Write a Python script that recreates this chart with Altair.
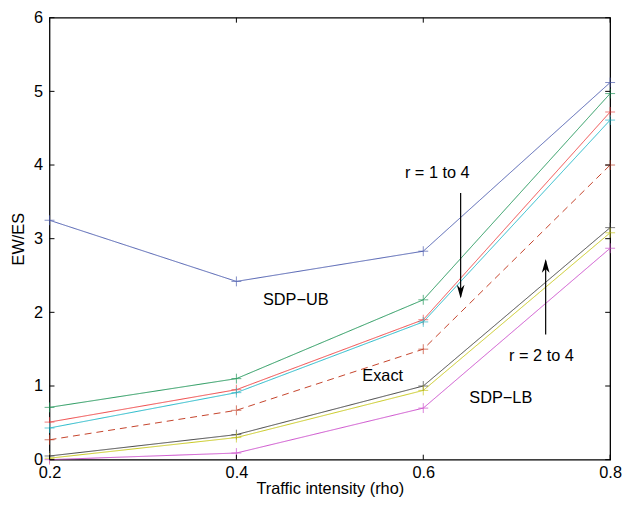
import altair as alt
import pandas as pd

rho = [0.2, 0.4, 0.6, 0.8]
sdp_ub_1 = [3.25, 2.42, 2.83, 5.12]
sdp_ub_2 = [0.71, 1.10, 2.17, 4.97]
sdp_ub_3 = [0.51, 0.95, 1.90, 4.72]
sdp_ub_4 = [0.43, 0.91, 1.87, 4.61]
exact = [0.27, 0.67, 1.50, 4.00]
sdp_lb_2 = [0.05, 0.34, 1.00, 3.15]
sdp_lb_3 = [0.02, 0.30, 0.94, 3.08]
sdp_lb_4 = [0.00, 0.09, 0.70, 2.87]

series_names = ["UB r=1", "UB r=2", "UB r=3", "UB r=4", "Exact", "LB r=2", "LB r=3", "LB r=4"]
series_vals = [sdp_ub_1, sdp_ub_2, sdp_ub_3, sdp_ub_4, exact, sdp_lb_2, sdp_lb_3, sdp_lb_4]
series_colors = ["#4f5fb0", "#22975a", "#ee4646", "#22b8c8", "#c4432b", "#444444", "#c8c81e", "#cc50cc"]
series_dash = ["solid", "solid", "solid", "solid", "dash", "solid", "solid", "solid"]

x_ticks = [0.2, 0.4, 0.6, 0.8]
y_ticks = [0, 1, 2, 3, 4, 5, 6]

# annotations (data coordinates)
ann_text = ["r = 1 to 4", "SDP\u2212UB", "Exact", "SDP\u2212LB", "r = 2 to 4"]
ann_x = [0.615, 0.4635, 0.5566, 0.683, 0.7265]
ann_y = [3.89, 2.17, 1.13, 0.83, 1.41]

arrow_x = [0.640, 0.731]
arrow_from = [3.62, 1.70]
arrow_to = [2.21, 2.70]
arrow_dir = ["down", "up"]

W, H = 567, 447
FONT = "Liberation Sans"
FS = 16.5

rows = []
for name, vals, dash in zip(series_names, series_vals, series_dash):
    for xv, yv in zip(rho, vals):
        rows.append({"rho": xv, "val": yv, "series": name, "dash": dash})
df = pd.DataFrame(rows)

xs = alt.Scale(domain=[0.2, 0.8], nice=False, zero=False)
ys = alt.Scale(domain=[0, 6], nice=False, zero=False)

color = alt.Color("series:N", scale=alt.Scale(domain=series_names, range=series_colors), legend=None)

base = alt.Chart(df)
lines = base.mark_line(strokeWidth=1, clip=True).encode(
    x=alt.X("rho:Q", scale=xs,
            axis=alt.Axis(values=x_ticks, format=".1f", ticks=False, domain=False, grid=False,
                          labelFlush=False,
                          labelFont=FONT, labelFontSize=FS, labelColor="black", labelPadding=5,
                          title="Traffic intensity (rho)", titleFont=FONT, titleFontSize=FS,
                          titleFontWeight="normal", titleColor="black", titlePadding=0)),
    y=alt.Y("val:Q", scale=ys,
            axis=alt.Axis(values=y_ticks, format="d", ticks=False, domain=False, grid=False,
                          labelFlush=False,
                          labelFont=FONT, labelFontSize=FS, labelColor="black", labelPadding=7,
                          title="EW/ES", titleFont=FONT, titleFontSize=FS,
                          titleFontWeight="normal", titleColor="black", titlePadding=7)),
    color=color,
    strokeDash=alt.StrokeDash("dash:N", scale=alt.Scale(domain=["solid", "dash"], range=[[1, 0], [7, 5]]), legend=None),
    detail="series:N",
)

points = base.mark_point(shape="M-1,0L1,0M0,-1L0,1", size=100, filled=False, strokeWidth=1).encode(
    x=alt.X("rho:Q", scale=xs), y=alt.Y("val:Q", scale=ys), color=color,
)

# inward ticks
xt = pd.DataFrame({"t": x_ticks})
yt = pd.DataFrame({"t": y_ticks})
tick_bottom = alt.Chart(xt).mark_rule(color="black", strokeWidth=1).encode(
    x=alt.X("t:Q", scale=xs), y=alt.value(H), y2=alt.value(H - 5))
tick_top = alt.Chart(xt).mark_rule(color="black", strokeWidth=1).encode(
    x=alt.X("t:Q", scale=xs), y=alt.value(0), y2=alt.value(5))
tick_left = alt.Chart(yt).mark_rule(color="black", strokeWidth=1).encode(
    y=alt.Y("t:Q", scale=ys), x=alt.value(0), x2=alt.value(5))
tick_right = alt.Chart(yt).mark_rule(color="black", strokeWidth=1).encode(
    y=alt.Y("t:Q", scale=ys), x=alt.value(W), x2=alt.value(W - 5))

ann_df = pd.DataFrame({"text": ann_text, "x": ann_x, "y": ann_y})
texts = alt.Chart(ann_df).mark_text(font=FONT, fontSize=FS, color="black").encode(
    x=alt.X("x:Q", scale=xs), y=alt.Y("y:Q", scale=ys), text="text:N")

arr_df = pd.DataFrame({"x": arrow_x, "y1": arrow_from, "y2": arrow_to, "dir": arrow_dir})
shafts = alt.Chart(arr_df).mark_rule(color="black", strokeWidth=1.2).encode(
    x=alt.X("x:Q", scale=xs), y=alt.Y("y1:Q", scale=ys), y2="y2:Q")
heads_down = alt.Chart(arr_df).transform_filter("datum.dir == 'down'").mark_point(
    shape="M0,1L-0.5,-0.8L0,-0.3L0.5,-0.8Z", size=240, filled=True, color="black", opacity=1).encode(
    x=alt.X("x:Q", scale=xs), y=alt.Y("y2:Q", scale=ys), yOffset=alt.value(-6))
heads_up = alt.Chart(arr_df).transform_filter("datum.dir == 'up'").mark_point(
    shape="M0,-1L-0.5,0.8L0,0.3L0.5,0.8Z", size=240, filled=True, color="black", opacity=1).encode(
    x=alt.X("x:Q", scale=xs), y=alt.Y("y2:Q", scale=ys), yOffset=alt.value(6))

chart = alt.layer(
    lines, points, tick_bottom, tick_top, tick_left, tick_right, texts, shafts, heads_down, heads_up
).properties(
    width=W, height=H,
    autosize=alt.AutoSizeParams(type="none"),
    padding={"left": 42, "top": 7, "right": 12, "bottom": 39},
    background="white",
).configure_view(stroke="black", strokeWidth=1.3)

chart.save("out.html", embed_options={"renderer": "svg", "actions": False})
